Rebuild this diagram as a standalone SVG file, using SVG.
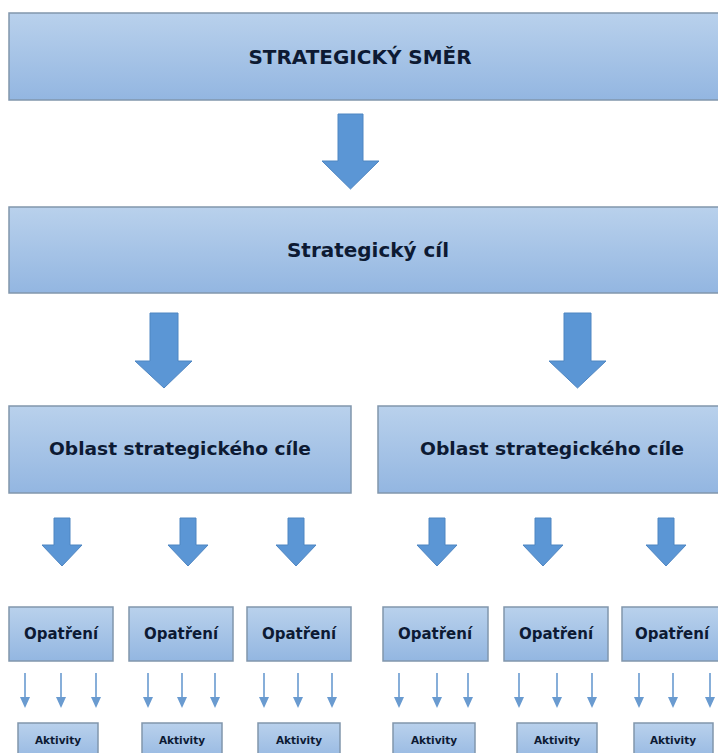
<svg xmlns="http://www.w3.org/2000/svg" width="718" height="753" viewBox="0 0 718 753">
<defs>
<linearGradient id="bg" x1="0" y1="0" x2="0" y2="1">
<stop offset="0" stop-color="#b9d1ec"/>
<stop offset="1" stop-color="#93b6e1"/>
</linearGradient>
</defs>
<style>
.box{fill:url(#bg);stroke:#8196ac;stroke-width:1.5}
.t{font-family:"DejaVu Sans","Verdana",sans-serif;font-weight:bold;fill:#0d1a33;text-anchor:middle}
.arr{fill:#5b96d5;stroke:#4f86c2;stroke-width:1}
.thin{stroke:#6a9bd0;stroke-width:1.6;fill:none}
.thead{fill:#6a9bd0}
</style>
<rect width="718" height="753" fill="#ffffff"/>
<g id="n-smer"><rect class="box" x="9" y="13" width="715" height="87"/><text class="t" x="360" y="64" font-size="19.5" textLength="223" lengthAdjust="spacingAndGlyphs">STRATEGICKÝ SMĚR</text></g>
<g id="n-cil"><rect class="box" x="9" y="207" width="715" height="86"/><text class="t" x="368" y="257" font-size="19" textLength="162" lengthAdjust="spacingAndGlyphs">Strategický cíl</text></g>
<g id="n-oblast1"><rect class="box" x="9" y="406" width="342" height="87"/><text class="t" x="180" y="455" font-size="18.5" textLength="262" lengthAdjust="spacingAndGlyphs">Oblast strategického cíle</text></g>
<g id="n-oblast2"><rect class="box" x="378" y="406" width="350" height="87"/><text class="t" x="552" y="455" font-size="18.5" textLength="264" lengthAdjust="spacingAndGlyphs">Oblast strategického cíle</text></g>
<g id="n-op1"><rect class="box" x="9" y="607" width="104" height="54"/><text class="t" x="61" y="639" font-size="15">Opatření</text></g>
<g id="n-op2"><rect class="box" x="129" y="607" width="104" height="54"/><text class="t" x="181" y="639" font-size="15">Opatření</text></g>
<g id="n-op3"><rect class="box" x="247" y="607" width="104" height="54"/><text class="t" x="299" y="639" font-size="15">Opatření</text></g>
<g id="n-op4"><rect class="box" x="383" y="607" width="105" height="54"/><text class="t" x="435" y="639" font-size="15">Opatření</text></g>
<g id="n-op5"><rect class="box" x="504" y="607" width="104" height="54"/><text class="t" x="556" y="639" font-size="15">Opatření</text></g>
<g id="n-op6"><rect class="box" x="622" y="607" width="104" height="54"/><text class="t" x="672" y="639" font-size="15">Opatření</text></g>
<g id="n-akt1"><rect class="box" x="18" y="723" width="80" height="40"/><text class="t" x="58" y="744" font-size="10.5">Aktivity</text></g>
<g id="n-akt2"><rect class="box" x="142" y="723" width="80" height="40"/><text class="t" x="182" y="744" font-size="10.5">Aktivity</text></g>
<g id="n-akt3"><rect class="box" x="258" y="723" width="82" height="40"/><text class="t" x="299" y="744" font-size="10.5">Aktivity</text></g>
<g id="n-akt4"><rect class="box" x="393" y="723" width="82" height="40"/><text class="t" x="434" y="744" font-size="10.5">Aktivity</text></g>
<g id="n-akt5"><rect class="box" x="517" y="723" width="80" height="40"/><text class="t" x="557" y="744" font-size="10.5">Aktivity</text></g>
<g id="n-akt6"><rect class="box" x="634" y="723" width="79" height="40"/><text class="t" x="673" y="744" font-size="10.5">Aktivity</text></g>
<g id="connectors">
<polygon class="arr" points="338,114 363,114 363,161 379,161 350.5,189 322,161 338,161"/>
<polygon class="arr" points="150,313 178,313 178,361 192,361 164,388 135,361 150,361"/>
<polygon class="arr" points="564,313 591,313 591,361 606,361 577.5,388 549,361 564,361"/>
<polygon class="arr" points="54,518 70,518 70,545 82,545 62,566 42,545 54,545"/>
<polygon class="arr" points="180,518 196,518 196,545 208,545 188,566 168,545 180,545"/>
<polygon class="arr" points="288,518 304,518 304,545 316,545 296,566 276,545 288,545"/>
<polygon class="arr" points="429,518 445,518 445,545 457,545 437,566 417,545 429,545"/>
<polygon class="arr" points="535,518 551,518 551,545 563,545 543,566 523,545 535,545"/>
<polygon class="arr" points="658,518 674,518 674,545 686,545 666,566 646,545 658,545"/>
<g id="thin-arrows">
<path class="thin" d="M25,673V699M61,673V699M96,673V699M148,673V699M182,673V699M215,673V699M264,673V699M298,673V699M332,673V699M399,673V699M437,673V699M468,673V699M519,673V699M557,673V699M592,673V699M639,673V699M673,673V699M710,673V699"/>
<g class="thead">
<polygon points="20,697 30,697 25,708"/><polygon points="56,697 66,697 61,708"/><polygon points="91,697 101,697 96,708"/>
<polygon points="143,697 153,697 148,708"/><polygon points="177,697 187,697 182,708"/><polygon points="210,697 220,697 215,708"/>
<polygon points="259,697 269,697 264,708"/><polygon points="293,697 303,697 298,708"/><polygon points="327,697 337,697 332,708"/>
<polygon points="394,697 404,697 399,708"/><polygon points="432,697 442,697 437,708"/><polygon points="463,697 473,697 468,708"/>
<polygon points="514,697 524,697 519,708"/><polygon points="552,697 562,697 557,708"/><polygon points="587,697 597,697 592,708"/>
<polygon points="634,697 644,697 639,708"/><polygon points="668,697 678,697 673,708"/><polygon points="705,697 715,697 710,708"/>
</g>
</g>
</g>
</svg>
